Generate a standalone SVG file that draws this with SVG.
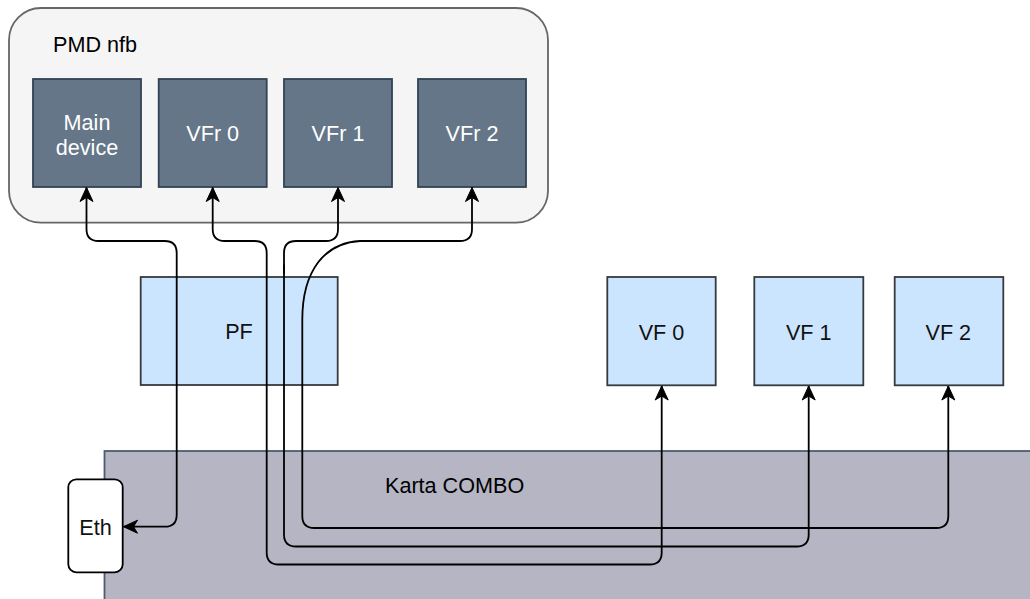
<svg xmlns="http://www.w3.org/2000/svg" width="1030" height="599" viewBox="0 0 1030 599">
  <style>
    text { font-family: "Liberation Sans", Arial, sans-serif; font-size: 21.6px; }
    .dark { fill: #647687; stroke: #314354; stroke-width: 1.8; }
    .dark-label { fill: #ffffff; text-anchor: middle; }
    .light { fill: #cce5ff; stroke: #36393d; stroke-width: 1.8; }
    .label { fill: #111111; text-anchor: middle; }
    .wire { fill: none; stroke: #000000; stroke-width: 1.8; }
  </style>
  <defs>
    <marker id="arrow" markerUnits="userSpaceOnUse" viewBox="-16 -8 17 16" refX="0" refY="0" markerWidth="17" markerHeight="16" orient="auto-start-reverse">
      <path d="M0,0 L-14,-6.5 L-10,0 L-14,6.5 Z" fill="#000000" stroke="#000000" stroke-width="1"/>
    </marker>
  </defs>

  <!-- card backplane -->
  <g id="karta">
    <rect x="104.5" y="451" width="940" height="160" fill="#b5b5c3" stroke="#4f5b70" stroke-width="1.8"/>
    <text x="385" y="493">Karta COMBO</text>
  </g>

  <!-- driver container -->
  <g id="pmd-nfb">
    <rect x="9" y="8" width="539" height="214.7" rx="32" ry="32" fill="#f5f5f5" stroke="#666666" stroke-width="1.8"/>
    <text x="53" y="52">PMD nfb</text>
  </g>

  <g id="main-device">
    <rect class="dark" x="33" y="79" width="108" height="108"/>
    <text class="dark-label" x="87" y="130">Main</text>
    <text class="dark-label" x="87" y="155">device</text>
  </g>
  <g id="vfr0">
    <rect class="dark" x="158.7" y="79" width="108" height="108"/>
    <text class="dark-label" x="212.7" y="140.7">VFr 0</text>
  </g>
  <g id="vfr1">
    <rect class="dark" x="284" y="79" width="108" height="108"/>
    <text class="dark-label" x="338" y="140.7">VFr 1</text>
  </g>
  <g id="vfr2">
    <rect class="dark" x="418" y="79" width="108" height="108"/>
    <text class="dark-label" x="472" y="140.7">VFr 2</text>
  </g>

  <!-- PCI functions -->
  <g id="pf">
    <rect class="light" x="140.7" y="277" width="197" height="108"/>
    <text class="label" x="239" y="339">PF</text>
  </g>
  <g id="vf0">
    <rect class="light" x="607.3" y="277" width="108.4" height="108.3"/>
    <text class="label" x="661.5" y="340">VF 0</text>
  </g>
  <g id="vf1">
    <rect class="light" x="754.3" y="277" width="109" height="108.3"/>
    <text class="label" x="808.7" y="340">VF 1</text>
  </g>
  <g id="vf2">
    <rect class="light" x="894.7" y="277" width="108.6" height="108.3"/>
    <text class="label" x="948.3" y="340">VF 2</text>
  </g>

  <!-- ethernet port -->
  <g id="eth">
    <rect x="68.3" y="479.3" width="54.4" height="93" rx="8" ry="8" fill="#ffffff" stroke="#000000" stroke-width="1.8"/>
    <text class="label" x="95.5" y="535">Eth</text>
  </g>

  <!-- connectors -->
  <g id="connectors">
    <path class="wire" marker-start="url(#arrow)" marker-end="url(#arrow)"
          d="M86.5,187.5 L86.5,229 Q86.5,241 98.5,241 L164.7,241 Q176.7,241 176.7,253 L176.7,514.7 Q176.7,526.7 164.7,526.7 L123.5,526.7"/>
    <path class="wire" marker-start="url(#arrow)" marker-end="url(#arrow)"
          d="M212.7,187.5 L212.7,229 Q212.7,241 224.7,241 L254.7,241 Q266.7,241 266.7,253 L266.7,552.5 Q266.7,564.5 278.7,564.5 L649.7,564.5 Q661.7,564.5 661.7,552.5 L661.7,386"/>
    <path class="wire" marker-start="url(#arrow)" marker-end="url(#arrow)"
          d="M338,187.5 L338,229 Q338,241 326,241 L296,241 Q284,241 284,253 L284,534.5 Q284,546.5 296,546.5 L796.7,546.5 Q808.7,546.5 808.7,534.5 L808.7,386"/>
    <path class="wire" stroke-width="3" d="M284,264.5 L284,273.5"/>
    <path class="wire" marker-start="url(#arrow)" marker-end="url(#arrow)"
          d="M472,187.5 L472,229 Q472,241 460,241 L360,241 C325,243 302.3,270 302.3,320 L302.3,516 Q302.3,528 314.3,528 L936.3,528 Q948.3,528 948.3,516 L948.3,386"/>
  </g>
</svg>
